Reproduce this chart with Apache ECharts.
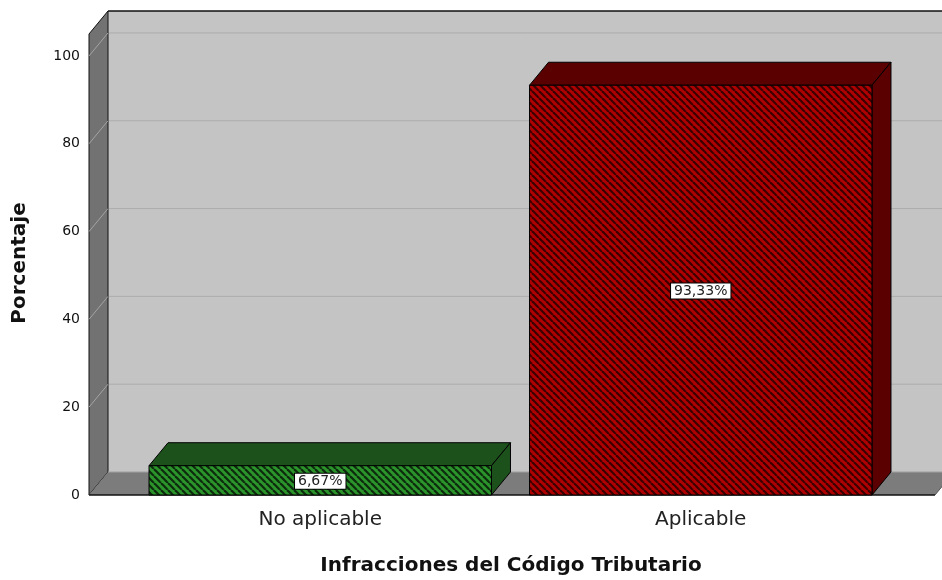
<!DOCTYPE html>
<html>
<head>
<meta charset="utf-8">
<script src="https://cdn.jsdelivr.net/npm/echarts@6/dist/echarts.min.js"></script>
<style>
  html, body { margin: 0; padding: 0; background: #fff; }
  #main { width: 942px; height: 580px; }
</style>
</head>
<body>
<div id="main"></div>
<script>
var categories = ['No aplicable', 'Aplicable'];
var percentages = [6.67, 93.33];
var yTicks = [0, 20, 40, 60, 80, 100];

var FONT = 'DejaVu Sans';
// fake 3d depth of the box and bars
var DX = 19, DY = 23;
var barFront = ['#2b942b', '#b00000'];
var barStripe = ['#0e2a0e', '#3a0000'];
var barDark = ['#1c511c', '#5a0000'];

function hatch(base, line) {
  var s = 7;
  var c = document.createElement('canvas');
  c.width = s; c.height = s;
  var g = c.getContext('2d');
  g.fillStyle = base;
  g.fillRect(0, 0, s, s);
  g.strokeStyle = line;
  g.lineWidth = 2.2;
  [-s, 0, s].forEach(function (k) {
    g.beginPath(); g.moveTo(k, 0); g.lineTo(k + s, s); g.stroke();
  });
  return { image: c, repeat: 'repeat' };
}
var patterns = barFront.map(function (c, i) { return hatch(c, barStripe[i]); });

function fmt(v) { return v.toFixed(2).replace('.', ',') + '%'; }

var chart = echarts.init(document.getElementById('main'), null, { renderer: 'canvas' });

// walls + floor + grid lines, drawn once from the grid rect
function renderBox(params, api) {
  var cs = params.coordSys;
  var xl = cs.x - 41, xr = cs.x + cs.width + 44;
  var y0 = api.coord([0, 0])[1], yt = cs.y;
  var kids = [];
  // back wall
  kids.push({ type: 'polygon', shape: { points: [[xl + DX, yt - DY], [xr + DX + 40, yt - DY], [xr + DX + 40, y0 - DY], [xl + DX, y0 - DY]] },
    style: { fill: '#c4c4c4', stroke: null } });
  // grid lines
  yTicks.forEach(function (t) {
    if (t === 0) return;
    var y = api.coord([0, t])[1];
    kids.push({ type: 'line', shape: { x1: xl + DX, y1: y - DY, x2: xr + DX + 40, y2: y - DY }, style: { stroke: '#acacac', lineWidth: 1 } });
  });
  // left wall
  kids.push({ type: 'polygon', shape: { points: [[xl, yt], [xl + DX, yt - DY], [xl + DX, y0 - DY], [xl, y0]] },
    style: { fill: '#727272', stroke: '#111', lineWidth: 1 } });
  yTicks.forEach(function (t) {
    if (t === 0) return;
    var y = api.coord([0, t])[1];
    kids.push({ type: 'line', shape: { x1: xl, y1: y, x2: xl + DX, y2: y - DY }, style: { stroke: '#a4a4a4', lineWidth: 1 } });
  });
  // floor
  kids.push({ type: 'polygon', shape: { points: [[xl, y0], [xl + DX, y0 - DY], [xr + DX, y0 - DY], [xr, y0]] },
    style: { fill: '#7c7c7c', stroke: null } });
  kids.push({ type: 'line', shape: { x1: xl + DX, y1: y0 - DY, x2: xr + DX + 40, y2: y0 - DY }, style: { stroke: '#a0a0a0', lineWidth: 1 } });
  kids.push({ type: 'line', shape: { x1: xl, y1: y0, x2: xr, y2: y0 }, style: { stroke: '#111', lineWidth: 1.5 } });
  kids.push({ type: 'line', shape: { x1: xr, y1: y0, x2: xr + DX, y2: y0 - DY }, style: { stroke: '#555', lineWidth: 1 } });
  // top edge of back wall
  kids.push({ type: 'line', shape: { x1: xl + DX, y1: yt - DY, x2: xr + DX + 40, y2: yt - DY }, style: { stroke: '#111', lineWidth: 1.5 } });
  return { type: 'group', children: kids };
}

function renderBar(params, api) {
  var i = params.dataIndex;
  var base = api.coord([api.value(0), 0]);
  var top = api.coord([api.value(0), api.value(1)]);
  var w = api.size([1, 0])[0] * 0.9;
  var x0 = base[0] - w / 2, x1 = base[0] + w / 2;
  var yb = base[1], yt = top[1];
  var edge = { stroke: '#000', lineWidth: 1 };
  return {
    type: 'group',
    children: [
      { type: 'polygon', shape: { points: [[x0, yt], [x0 + DX, yt - DY], [x1 + DX, yt - DY], [x1, yt]] },
        style: Object.assign({ fill: barDark[i] }, edge) },
      { type: 'polygon', shape: { points: [[x1, yt], [x1 + DX, yt - DY], [x1 + DX, yb - DY], [x1, yb]] },
        style: Object.assign({ fill: barDark[i] }, edge) },
      { type: 'rect', shape: { x: x0, y: yt, width: w, height: yb - yt },
        style: Object.assign({ fill: patterns[i] }, edge) },
      { type: 'text', x: base[0], y: (yt + yb) / 2 + 1,
        style: { text: fmt(api.value(1)), align: 'center', verticalAlign: 'middle',
          font: '14px "DejaVu Sans"', fill: '#222', backgroundColor: '#fff',
          borderColor: '#000', borderWidth: 1, padding: [1, 3, 0, 3] } }
    ]
  };
}

var option = {
  animation: false,
  backgroundColor: '#fff',
  grid: { left: 130, right: 51, top: 34, bottom: 85 },
  xAxis: {
    type: 'category',
    data: categories,
    axisLine: { show: false },
    axisTick: { show: false },
    axisLabel: { margin: 15, fontFamily: FONT, fontSize: 20, color: '#222' }
  },
  yAxis: {
    type: 'value',
    min: 0,
    max: 105,
    interval: 20,
    axisLine: { show: false },
    axisTick: { show: false },
    splitLine: { show: false },
    axisLabel: {
      margin: 50, fontFamily: FONT, fontSize: 14, color: '#111',
      formatter: function (v) { return yTicks.indexOf(v) >= 0 ? String(v) : ''; }
    }
  },
  graphic: [
    { type: 'text', x: 20, y: 263, rotation: Math.PI / 2,
      style: { text: 'Porcentaje', font: 'bold 20px "DejaVu Sans"', fill: '#111', align: 'center', verticalAlign: 'middle' } },
    { type: 'text', x: 511, y: 566,
      style: { text: 'Infracciones del Código Tributario', font: 'bold 20px "DejaVu Sans"', fill: '#111', align: 'center', verticalAlign: 'middle' } }
  ],
  series: [
    { type: 'custom', renderItem: renderBox, data: [[0, 0]], silent: true, z: 1 },
    {
      type: 'custom',
      renderItem: renderBar,
      encode: { x: 0, y: 1 },
      data: percentages.map(function (v, i) { return [i, v]; }),
      z: 2
    }
  ]
};

chart.setOption(option);
</script>
</body>
</html>
